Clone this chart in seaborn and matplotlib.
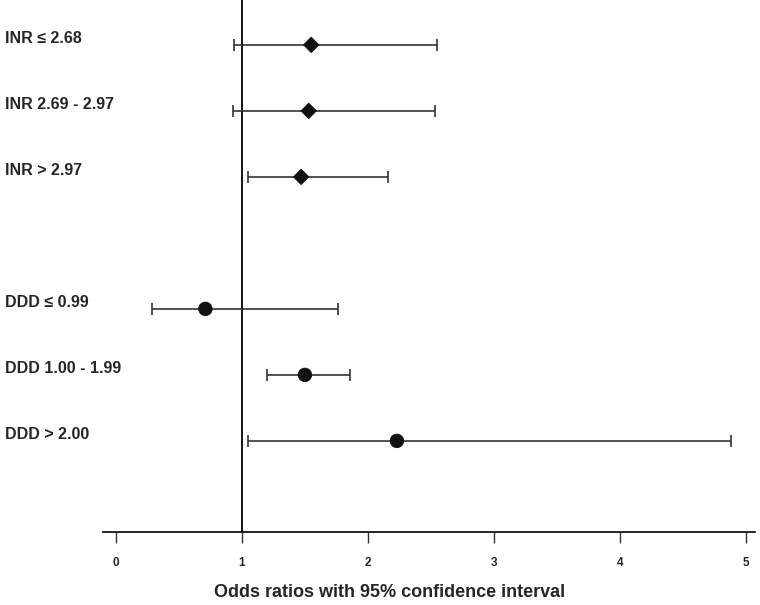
import numpy as np
import pandas as pd
import matplotlib
matplotlib.use("Agg")
import matplotlib.pyplot as plt
import matplotlib.transforms as mtransforms
import seaborn as sns

# -----------------------------
# Data
# -----------------------------
labels = ["INR \u2264 2.68", "INR 2.69 - 2.97", "INR > 2.97",
          "DDD \u2264 0.99", "DDD 1.00 - 1.99", "DDD > 2.00"]
groups = ["INR", "INR", "INR", "DDD", "DDD", "DDD"]
odds = [1.55, 1.53, 1.47, 0.71, 1.50, 2.23]
ci_low = [0.94, 0.93, 1.05, 0.29, 1.20, 1.05]
ci_high = [2.55, 2.53, 2.16, 1.76, 1.86, 4.88]
rows = [0, 1, 2, 4, 5, 6]
xticks = [0, 1, 2, 3, 4, 5]

df = pd.DataFrame({"label": labels, "group": groups, "OR": odds,
                   "low": ci_low, "high": ci_high, "row": rows})

# -----------------------------
# Plot
# -----------------------------
sns.set_theme(style="white")
plt.rcParams["font.family"] = ["Liberation Sans", "DejaVu Sans"]

fig = plt.figure(figsize=(7.6, 6.05), dpi=100)
ax = fig.add_axes([0.1355, 0.1207, 0.8575, 0.8793])

ax.axvline(1, color="black", lw=1.3, zorder=1)

ax.errorbar(df["OR"], df["row"],
            xerr=[df["OR"] - df["low"], df["high"] - df["OR"]],
            fmt="none", ecolor="#333333", elinewidth=1.2, capsize=4,
            capthick=1.2, zorder=2)

sns.scatterplot(data=df, x="OR", y="row", style="group", size="group",
                markers={"INR": "D", "DDD": "o"},
                sizes={"INR": 62, "DDD": 95}, color="#111111",
                edgecolor="#111111", linewidth=0.6, legend=False, zorder=3, ax=ax)

# row labels at left edge of figure
trans = mtransforms.blended_transform_factory(fig.transFigure, ax.transData)
for lab, r in zip(df["label"], df["row"]):
    ax.text(0.007, r - 0.09, lab, transform=trans,
            ha="left", va="center", fontsize=11.5, fontweight="bold")

ax.set_xlim(-0.103, 5.07)
ax.set_ylim(7.38, -0.68)
ax.set_yticks([])
ax.set_xticks(xticks)
ax.set_xticklabels([str(t) for t in xticks], fontweight="bold", fontsize=8.5)
ax.tick_params(axis="x", direction="out", length=8, width=1, color="#333333",
               bottom=True, pad=10)
ax.set_xlabel("")
ax.set_ylabel("")
fig.text(0.512, 0.02, "Odds ratios with 95% confidence interval",
         ha="center", va="center", fontsize=13, fontweight="bold")

for side in ["top", "right", "left"]:
    ax.spines[side].set_visible(False)
ax.spines["bottom"].set_color("black")
ax.spines["bottom"].set_linewidth(1.2)

fig.savefig("out.png", dpi=100)
